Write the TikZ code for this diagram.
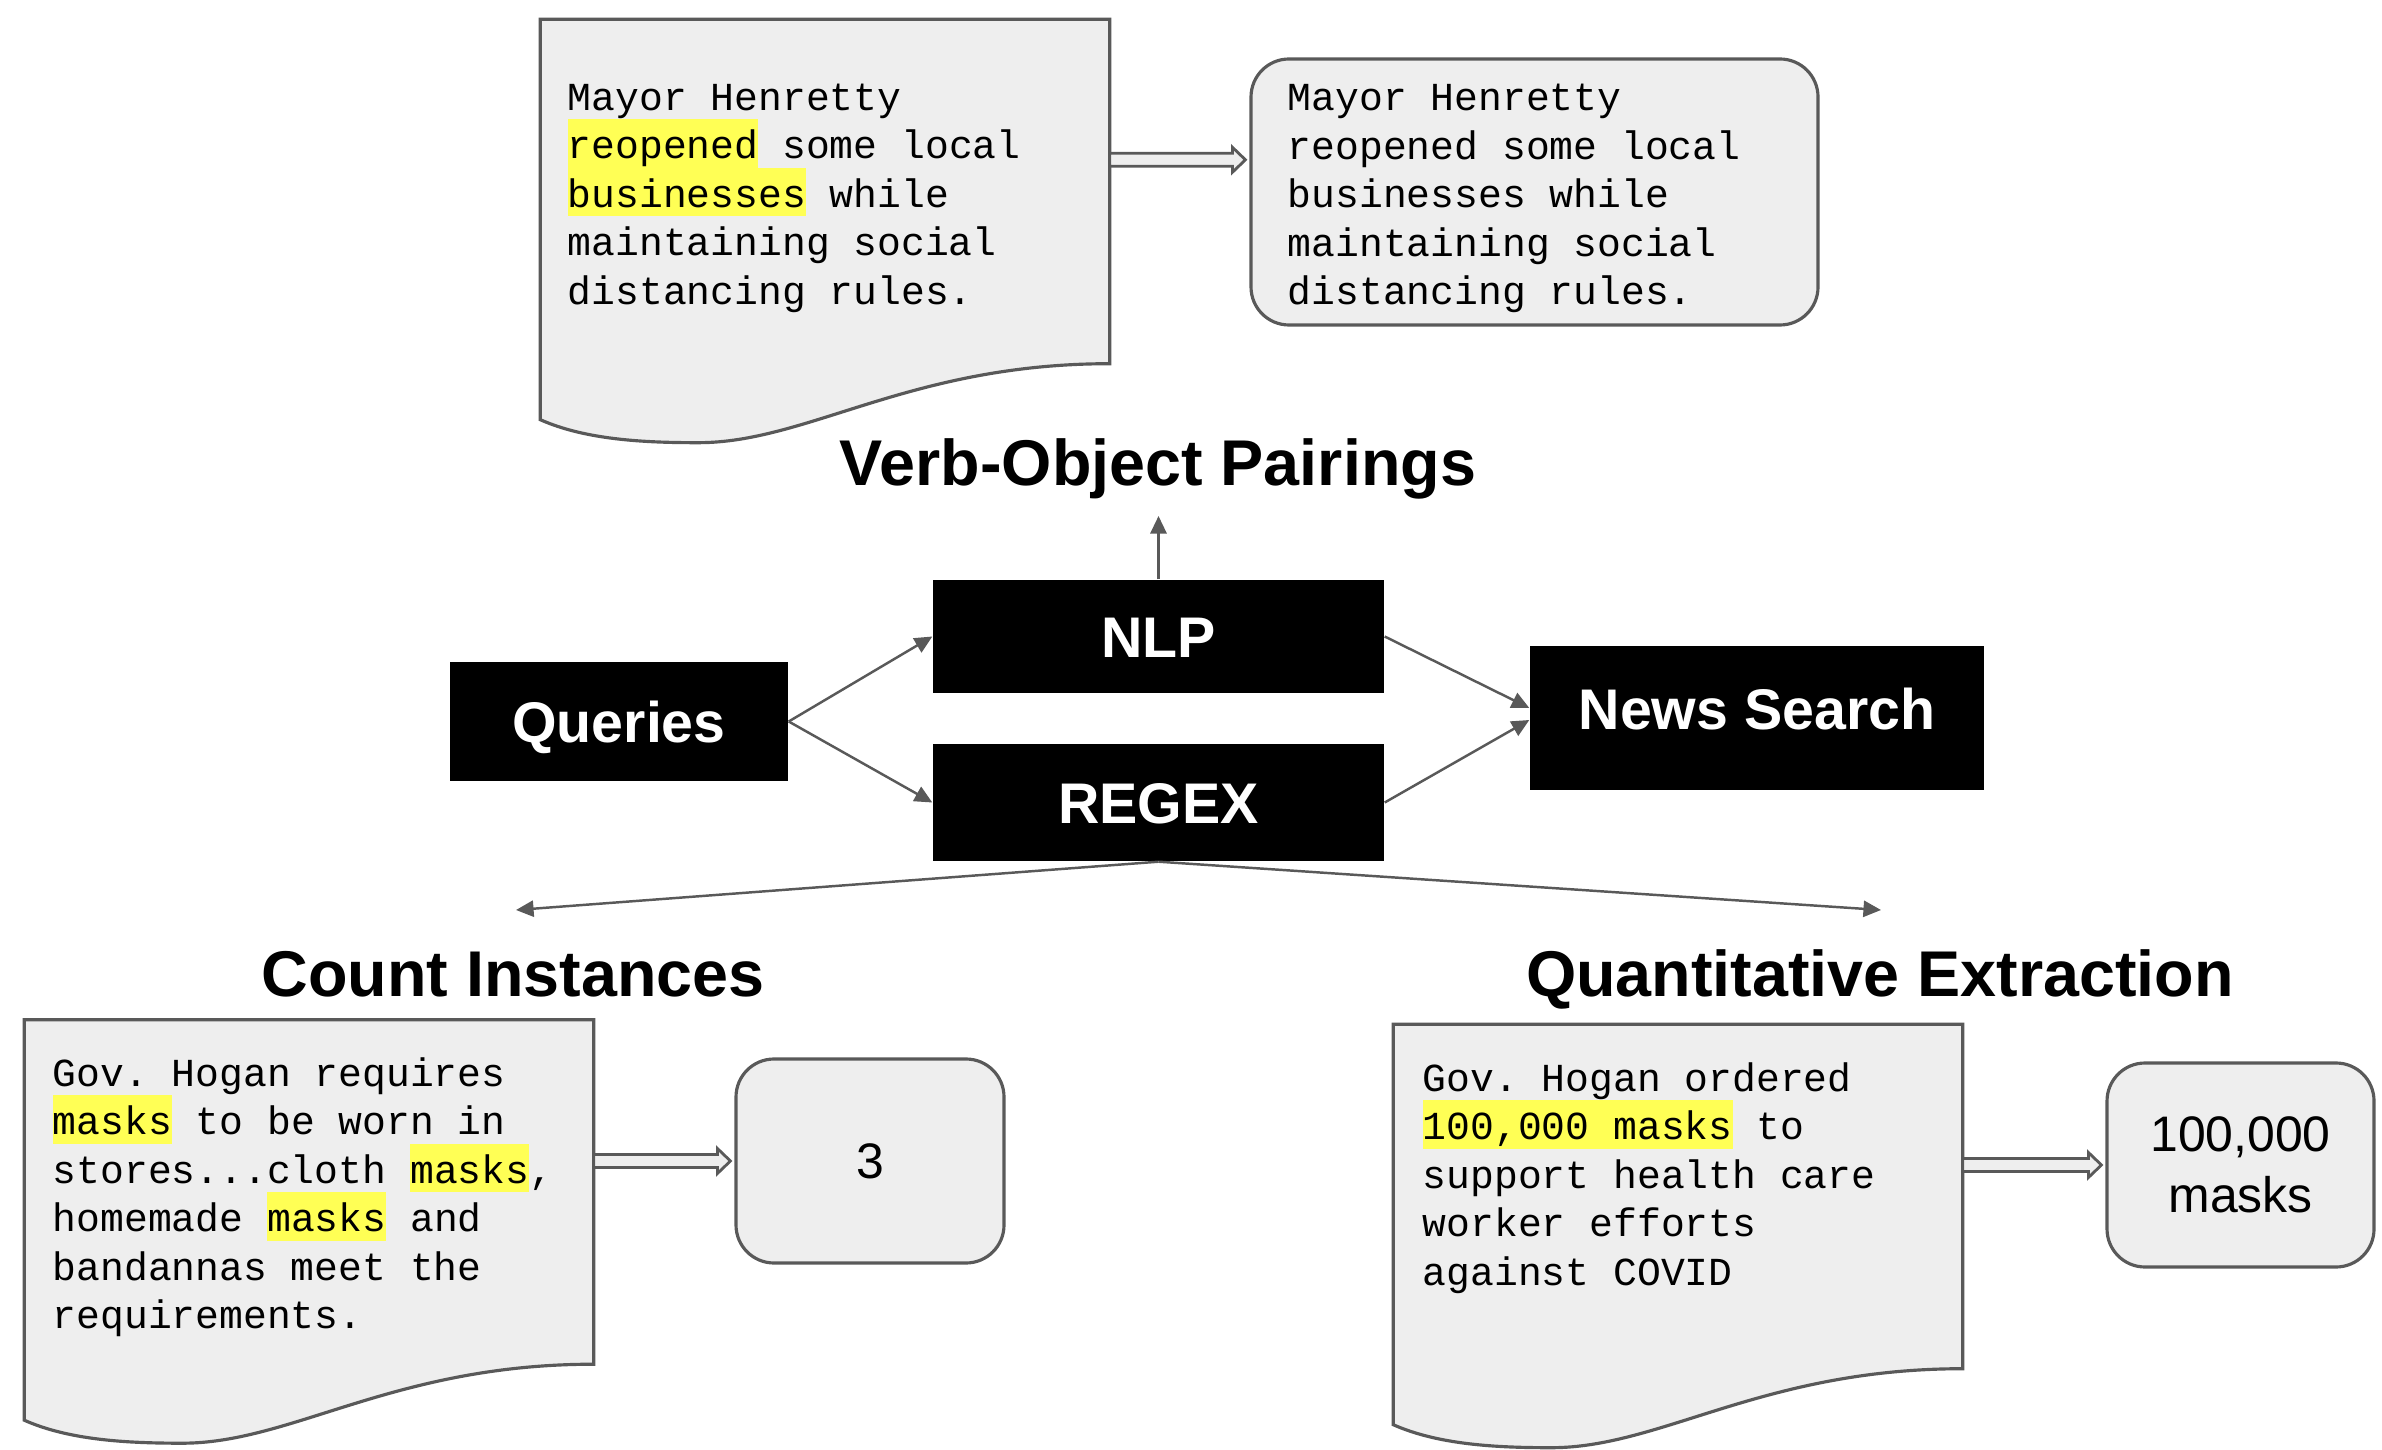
\documentclass[tikz,border=0pt]{standalone}
\usepackage{fontspec}
\setmainfont{Liberation Sans}
\newfontfamily\monofam{Liberation Mono}
\usepackage{tikz}
\usetikzlibrary{arrows.meta, positioning, calc}
\definecolor{figgray}{RGB}{89,89,89}
\definecolor{figpaper}{RGB}{238,238,238}
\definecolor{figyellow}{RGB}{255,255,85}
\newcommand{\codestrut}{\rule[-2.6pt]{0pt}{13.8pt}}
\newcommand{\hl}[1]{{\setlength{\fboxsep}{0pt}\colorbox{figyellow}{\codestrut#1}}}
\newcommand{\hollowarr}[2]{%
  \draw[harr] ($(#1)+(0,0.065)$) -- ($(#2)+(-0.17,0.065)$) -- ($(#2)+(-0.17,0.125)$)
    -- ($(#2)+(-0.04,0)$) -- ($(#2)+(-0.17,-0.125)$) -- ($(#2)+(-0.17,-0.065)$)
    -- ($(#1)+(0,-0.065)$) -- cycle;}
\tikzset{
  blk/.style={fill=black, text=white, minimum width=#1, inner sep=0pt,
              text height=11.7pt, text depth=0pt,
              font=\fontsize{16.3pt}{19pt}\selectfont\bfseries},
  ttl/.style={anchor=base, inner sep=0pt,
              font=\fontsize{18.4pt}{22pt}\selectfont\bfseries},
  docframe/.style={minimum width=5.68cm, minimum height=3.43cm, inner sep=0pt},
  docline/.style={draw=figgray, fill=figpaper, line width=0.9pt},
  code/.style={anchor=north west, inner sep=0pt, align=left,
               font=\monofam\frenchspacing\fontsize{11.3pt}{13.8pt}\selectfont},
  res/.style={draw=figgray, fill=figpaper, rounded corners=0.38cm, line width=0.9pt,
              minimum width=#1, minimum height=2.04cm, align=center,
              font=\fontsize{14.2pt}{17.3pt}\selectfont},
  arr/.style={-{Triangle[length=5pt, width=4.6pt]}, draw=figgray, line width=0.7pt},
  harr/.style={draw=figgray, fill=figpaper, line width=0.8pt},
}

\begin{document}
\begin{tikzpicture}
  \useasboundingbox (0,0) rectangle (23.82,-14.50);

  \node[blk=3.38cm, minimum height=1.19cm] (qry)  at (6.19,-7.215)   {Queries};
  \node[blk=4.51cm, minimum height=1.13cm] (nlp)  at (11.585,-6.365) {NLP};
  \node[blk=4.51cm, minimum height=1.17cm] (rgx)  at (11.585,-8.025) {REGEX};
  \node[blk=4.54cm, minimum height=1.44cm, text depth=5pt] (news) at (17.57,-7.18) {News Search};

  \node[ttl] (vop)   at (11.58,-4.86) {Verb-Object Pairings};
  \node[ttl] (cnttl) at (5.13,-9.96)  {Count Instances};
  \node[ttl] (qtytl) at (18.80,-9.96) {Quantitative Extraction};

  \coordinate (vopend) at (11.585,-5.16);
  \coordinate (cntend) at (5.16,-9.10);
  \coordinate (qtyend) at (18.81,-9.10);

  \draw[arr] (nlp.north) -- (vopend);
  \draw[arr] (qry.east)  -- (nlp.west);
  \draw[arr] (qry.east)  -- (rgx.west);
  \draw[arr] (nlp.east)  -- ([yshift=0.1cm]news.west);
  \draw[arr] (rgx.east)  -- ([yshift=-0.02cm]news.west);
  \draw[arr] (rgx.south) -- (cntend);
  \draw[arr] (rgx.south) -- (qtyend);

  % documents
  \node[docframe] (d1) at (8.25,-1.915)  {};
  \node[docframe] (d2) at (3.09,-11.92)  {};
  \node[docframe] (d3) at (16.78,-11.965) {};
  \foreach \d in {d1,d2,d3}
    \draw[docline] (\d.south east) -- (\d.north east) -- (\d.north west)
      -- ($(\d.south west)+(0,-0.56)$)
      .. controls +(0.45,-0.2) and +(-0.55,0) .. ($(\d.south west)+(1.58,-0.79)$)
      .. controls +(1.1,0) and +(-2.0,0) .. (\d.south east) -- cycle;

  \node[code] (t1) at (5.67,-0.70)
    {\codestrut Mayor Henretty\\ \hl{reopened} some local\\ \hl{businesses} while\\
     maintaining social\\ distancing rules.};
  \node[code] (t2) at (0.52,-10.46)
    {\codestrut Gov. Hogan requires\\ \hl{masks} to be worn in\\ stores...cloth \hl{masks},\\
     homemade \hl{masks} and\\ bandannas meet the\\ requirements.};
  \node[code] (t3) at (14.22,-10.51)
    {\codestrut Gov. Hogan ordered\\ \hl{100,000 masks} to\\ support health care\\
     worker efforts\\ against COVID};

  % results
  \node[res=5.67cm, minimum height=2.66cm] (out1) at (15.345,-1.92) {};
  \node[code] (t4) at (12.87,-0.705)
    {\codestrut Mayor Henretty\\ reopened some local\\ businesses while\\
     maintaining social\\ distancing rules.};
  \node[res=2.68cm] (cnt) at (8.70,-11.61)   {3};
  \node[res=2.67cm] (qty) at (22.405,-11.65) {100,000\\masks};

  \coordinate (h1a) at ($(d1.north east)+(0,-1.405)$);
  \coordinate (h1b) at (out1.west |- h1a);
  \coordinate (h2a) at (d2.east |- cnt.west);
  \coordinate (h3a) at (d3.east |- qty.west);
  \hollowarr{h1a}{h1b}
  \hollowarr{h2a}{cnt.west}
  \hollowarr{h3a}{qty.west}
\end{tikzpicture}
\end{document}
